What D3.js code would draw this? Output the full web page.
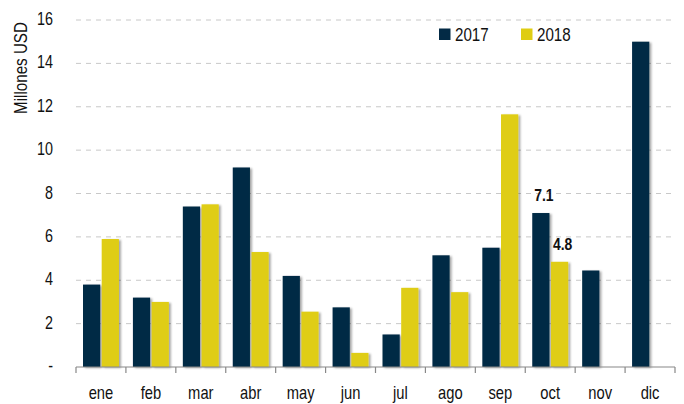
<!DOCTYPE html>
<html>
<head>
<meta charset="utf-8">
<script src="https://cdn.jsdelivr.net/npm/d3@7"></script>
<style>
  body { margin: 0; background: #fff; }
  svg { font-family: "Liberation Sans", Arial, sans-serif; }
</style>
</head>
<body>
<svg id="chart" width="684" height="404"></svg>
<script>
let months = ["ene","feb","mar","abr","may","jun","jul","ago","sep","oct","nov","dic"];
let series = ["2017","2018"];
let values2017 = [3.8, 3.2, 7.4, 9.2, 4.2, 2.75, 1.5, 5.15, 5.5, 7.1, 4.45, 15.0];
let values2018 = [5.9, 3.0, 7.5, 5.3, 2.55, 0.65, 3.65, 3.45, 11.65, 4.85, null, null];
let yTicks = [0, 2, 4, 6, 8, 10, 12, 14, 16];
let labelled = [{month: "oct", series: "2017", text: "7.1"}, {month: "oct", series: "2018", text: "4.8"}];

let colors = {"2017": "#032a45", "2018": "#dfcd12"};

const svg = d3.select("#chart");
const plotLeft = 76, plotRight = 675, plotTop = 20, plotBottom = 367;
const narrow = 0.82; // reference font is a narrow sans, squeeze Liberation Sans

let x = d3.scaleBand().domain(months).range([plotLeft, plotRight]).paddingInner(0).paddingOuter(0);
let xInner = d3.scaleBand().domain(series).range([7, x.bandwidth() - 7]).paddingInner(0.08);
let y = d3.scaleLinear().domain([0, 16]).range([plotBottom, plotTop]);

function at(px, py, rot) {
  return `translate(${px},${py})` + (rot ? ` rotate(${rot})` : "") + ` scale(${narrow},1)`;
}

// shadow for bars
let defs = svg.append("defs");
let f = defs.append("filter").attr("id", "shadow").attr("x", "-20%").attr("y", "-5%").attr("width", "150%").attr("height", "115%");
f.append("feDropShadow").attr("dx", 2).attr("dy", 1).attr("stdDeviation", 1.2)
  .attr("flood-color", "#000").attr("flood-opacity", 0.35);

// gridlines
svg.append("g").selectAll("line")
  .data(yTicks.filter(t => t > 0))
  .join("line")
  .attr("x1", plotLeft).attr("x2", 672)
  .attr("y1", d => y(d)).attr("y2", d => y(d))
  .attr("stroke", "#c8c8c8")
  .attr("stroke-dasharray", "5,5");

// y labels
svg.append("g").selectAll("text")
  .data(yTicks)
  .join("text")
  .attr("transform", d => at(53, y(d) + 5))
  .attr("text-anchor", "end")
  .attr("font-size", 17.5)
  .attr("fill", "#111")
  .text(d => d === 0 ? "-" : d);

svg.append("text")
  .attr("transform", "translate(27,68) rotate(-90) scale(" + narrow + ",1)")
  .attr("text-anchor", "middle")
  .attr("font-size", 18.5)
  .attr("fill", "#111")
  .text("Millones USD");

// bars
let rows = [];
months.forEach((m, i) => {
  rows.push({month: m, series: "2017", value: values2017[i]});
  rows.push({month: m, series: "2018", value: values2018[i]});
});

svg.append("g").selectAll("rect")
  .data(rows.filter(d => d.value !== null))
  .join("rect")
  .attr("x", d => x(d.month) + xInner(d.series))
  .attr("width", xInner.bandwidth())
  .attr("y", d => y(d.value))
  .attr("height", d => y(0) - y(d.value))
  .attr("fill", d => colors[d.series])
  .attr("filter", "url(#shadow)");

// x axis
let xAxis = svg.append("g");
xAxis.append("line")
  .attr("x1", plotLeft).attr("x2", plotRight)
  .attr("y1", plotBottom).attr("y2", plotBottom)
  .attr("stroke", "#888").attr("stroke-width", 1.2);
xAxis.selectAll(".tk")
  .data(months.concat(["end"]))
  .join("line")
  .attr("class", "tk")
  .attr("x1", d => d === "end" ? plotRight : x(d))
  .attr("x2", d => d === "end" ? plotRight : x(d))
  .attr("y1", plotBottom).attr("y2", plotBottom + 6)
  .attr("stroke", "#888").attr("stroke-width", 1.2);
xAxis.selectAll("text")
  .data(months)
  .join("text")
  .attr("transform", d => at(x(d) + x.bandwidth() / 2, 399))
  .attr("text-anchor", "middle")
  .attr("font-size", 18)
  .attr("fill", "#111")
  .text(d => d);

// data labels
svg.append("g").selectAll("text")
  .data(labelled)
  .join("text")
  .attr("transform", d => {
    let v = d.series === "2017" ? values2017[months.indexOf(d.month)] : values2018[months.indexOf(d.month)];
    return at(x(d.month) + xInner(d.series) + xInner.bandwidth() / 2 + 3, y(v) - 12);
  })
  .attr("text-anchor", "middle")
  .attr("font-size", 17)
  .attr("font-weight", "bold")
  .attr("fill", "#111")
  .text(d => d.text);

// legend
let legend = svg.append("g").selectAll("g")
  .data(series)
  .join("g")
  .attr("transform", (d, i) => `translate(${439 + i * 82},28.5)`);
legend.append("rect")
  .attr("width", 11.5).attr("height", 11.5)
  .attr("fill", d => colors[d]);
legend.append("text")
  .attr("transform", at(16, 12.2))
  .attr("font-size", 18.5)
  .attr("fill", "#111")
  .text(d => d);
</script>
</body>
</html>
